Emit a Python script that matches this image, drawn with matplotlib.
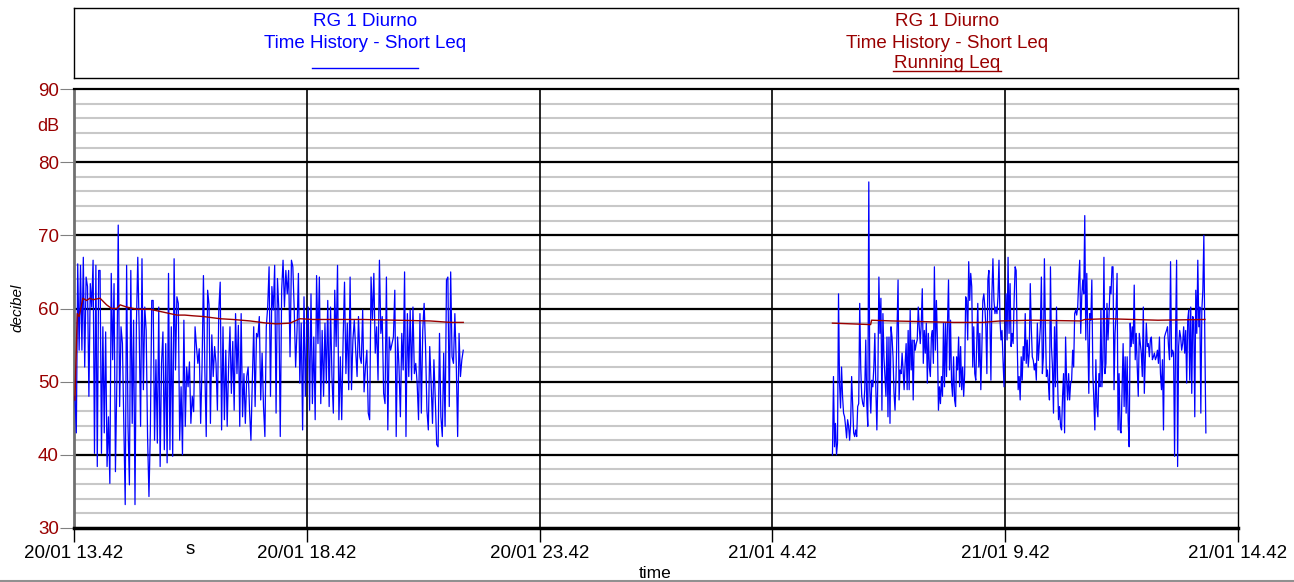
import matplotlib
matplotlib.use("Agg")
import matplotlib.pyplot as plt
import numpy as np
from matplotlib.lines import Line2D

plt.rcParams['font.family'] = ['Liberation Sans', 'DejaVu Sans']

# ---- data (hours since 20/01 13.42) ----
tick_hours = [0, 5, 10, 15, 20, 25]
tick_labels = ['20/01 13.42', '20/01 18.42', '20/01 23.42', '21/01 4.42', '21/01 9.42', '21/01 14.42']

seg1_start, seg1_end = 0.02, 8.36
seg1_leq = [48.0, 43.0, 66.1, 54.3, 65.9, 54.3, 67.0, 52.0, 64.3, 63.0, 48.0, 63.4, 60.2, 66.6, 40.2, 65.9,
            38.4, 65.2, 65.2, 40.2, 57.5, 43.0, 56.8, 38.4, 45.2, 36.1, 64.8, 53.0, 63.4, 37.7, 50.0, 71.4,
            46.6, 57.5, 55.2, 43.9, 33.2, 65.9, 43.9, 35.9, 65.2, 44.3, 58.4, 33.2, 57.7, 67.0, 57.0, 43.9,
            66.8, 48.9, 60.2, 57.0, 42.5, 34.3, 43.4, 61.1, 61.1, 42.0, 53.0, 41.6, 60.2, 38.4, 52.5, 56.8,
            40.7, 55.2, 38.9, 64.8, 40.7, 57.5, 39.8, 66.8, 51.6, 61.6, 60.7, 42.0, 49.3, 40.0, 58.4, 43.9,
            52.0, 49.3,
            52.7, 44.3, 48.0, 45.9, 57.5, 54.8, 52.5, 54.5, 44.3, 52.0, 64.5, 51.6, 42.5, 62.5, 60.5, 44.3,
            56.4, 50.7, 54.8, 52.5, 46.1, 59.8, 63.6, 43.4, 57.5, 44.8, 54.3, 43.9, 52.0, 57.5, 48.4, 55.5,
            46.1, 59.3, 51.1, 57.7, 43.9, 59.3, 45.2, 51.1, 44.3, 50.7, 52.0, 46.1, 42.0, 50.2, 57.5, 46.6,
            56.6, 56.1, 58.9, 47.5, 53.9, 46.6, 42.5, 57.5, 60.2, 65.7, 48.0, 63.0, 59.8, 65.9, 45.7, 64.1,
            59.8, 42.5, 62.5, 66.6, 60.2, 65.2, 62.0, 65.2, 53.4, 66.6, 65.7, 59.8, 52.0, 57.0, 64.8, 49.8,
            58.0, 43.4, 61.6, 48.0, 57.5, 60.2, 46.1, 62.0, 47.0, 56.1, 44.8, 64.5, 55.2, 64.3, 47.0, 57.0,
            48.0, 58.0, 49.8,
            61.1, 46.6, 60.2, 50.7, 45.7, 62.5, 54.8, 65.9, 44.8, 53.4, 44.8, 55.7, 63.6, 51.1, 58.0, 48.9,
            64.3, 48.9, 55.7, 58.4, 54.3, 50.7, 58.9, 53.4, 52.5, 59.8, 48.6, 52.0, 54.3, 45.7, 44.8, 64.3,
            58.4, 64.8, 53.9, 57.5, 50.2, 66.6, 56.6, 58.9, 48.4, 47.0, 64.3, 43.4, 56.1, 54.3, 55.2, 56.1,
            62.5, 42.5, 56.1, 52.0, 45.2, 56.6, 51.6, 65.0, 42.5, 59.3, 50.7, 59.8, 50.2, 60.2, 51.1, 52.5,
            49.8, 44.8, 59.3, 45.7, 57.0, 60.7, 54.8, 46.1, 43.4, 54.8, 49.8, 44.3, 53.0, 47.5, 41.4, 41.1,
            56.6, 45.2, 42.5, 53.9, 43.9, 63.9, 64.3, 46.6, 65.0, 53.4, 52.5, 59.3, 52.5, 42.5, 56.6, 50.7,
            53.0, 54.3]

seg2_start, seg2_end = 16.29, 24.31
seg2_leq = [40.0, 50.7, 41.1, 44.3, 40.0, 41.6, 62.0, 49.8, 46.4, 52.0, 48.0, 45.7, 45.2, 43.9, 42.3, 44.8,
            43.9, 42.0, 44.3, 50.7, 47.0, 43.0, 42.5, 43.4, 42.5, 46.6, 47.0, 60.7, 52.0, 48.0, 47.0, 46.6,
            48.9, 55.7, 47.0, 43.9, 77.3, 48.9, 45.7, 50.2, 49.3, 52.0, 56.6, 48.9, 43.4, 50.7, 64.3, 56.6,
            61.4, 46.1, 59.3, 53.4, 50.7, 48.0, 56.1, 45.2, 56.1, 44.3, 57.5, 56.1, 53.4, 48.4, 46.1, 50.7,
            57.5, 63.9, 47.5, 51.6, 51.1, 53.9, 51.6, 48.9, 52.5, 55.2, 48.9, 57.0, 48.9, 59.8, 51.6, 55.7,
            47.5, 55.7, 54.3, 55.2, 55.7, 60.2, 57.5, 55.2, 58.0, 62.7, 52.5, 57.0, 53.9, 58.0, 49.8, 56.6,
            52.0, 50.7, 56.1, 57.0, 52.5, 65.7, 54.3, 61.1, 55.7, 46.1, 49.3, 47.0, 50.7, 48.0, 58.0, 49.3,
            58.0, 50.7, 58.0, 63.9, 51.6, 58.4, 49.8,
            48.0, 53.4, 47.5, 46.6, 53.4, 51.6, 56.1, 49.3, 54.8, 48.9, 52.0, 48.0, 51.1, 61.6, 61.1, 55.7,
            66.4, 61.1, 64.8, 63.0, 52.0, 57.5, 51.1, 50.2, 55.7, 60.7, 52.0, 56.6, 48.9, 54.3, 61.1, 62.0,
            60.2, 57.5, 51.1, 63.9, 65.2, 58.4, 50.2, 62.0, 66.8, 61.1, 59.3, 60.2, 59.3, 61.6, 66.6, 58.4,
            55.7, 57.0, 52.9, 49.3, 56.6, 62.0, 55.7, 67.0, 56.6, 63.4, 54.8, 56.6, 55.2, 61.1, 65.7, 65.2,
            55.7, 48.9, 50.7, 47.5, 53.4, 50.2, 54.8, 52.9, 59.3, 52.5, 55.7, 52.0, 53.9, 63.4, 57.5, 53.4,
            52.9, 51.6, 52.5, 50.2, 58.0, 52.9, 55.2, 57.5, 64.3, 51.1, 53.4, 66.8, 57.5, 50.7, 51.6, 49.8,
            47.5, 65.7, 54.8, 52.0, 45.7, 57.5, 49.3, 60.2, 50.7, 44.8, 46.6, 43.9, 43.4, 48.0, 51.1, 43.0,
            56.1, 50.2, 47.5, 51.1, 47.5, 49.8, 50.2, 54.3, 52.0, 59.3, 59.8, 59.1, 60.2,
            63.9, 66.6, 56.6, 61.6, 63.9, 62.0, 72.7, 55.7, 64.8, 57.0, 48.4, 59.3, 58.4, 63.9, 51.1, 47.5,
            43.4, 53.0, 46.6, 45.2, 51.1, 49.3, 59.8, 49.3, 53.0, 67.0, 51.1, 52.5, 60.7, 55.7, 58.9, 63.0,
            62.0, 65.7, 65.7, 48.9, 56.6, 59.3, 64.8, 43.4, 51.1, 43.4, 43.0, 49.3, 55.2, 46.6, 53.4, 45.7,
            53.4, 44.8, 41.1, 58.0, 54.8, 57.5, 55.2, 63.2, 53.0, 56.6, 52.0, 48.0, 56.6, 55.2, 53.9, 50.7,
            60.2, 48.4, 53.0, 58.0, 54.8, 55.2, 53.4, 55.7, 56.1, 53.0, 53.4, 53.9, 53.0, 53.4, 54.3, 52.5,
            56.1, 51.1, 48.9, 53.0, 43.4, 56.1, 56.6, 57.0, 57.5, 54.8, 53.0, 66.4, 53.4, 54.3, 53.9, 39.8,
            56.6, 66.6, 38.4, 54.8, 57.0, 56.1, 54.3, 55.2, 57.5, 53.9, 57.0, 49.8, 58.4, 59.8, 50.2, 60.2,
            48.4, 58.9, 58.4, 45.2, 62.5, 56.6, 66.6, 57.5, 60.2, 45.7, 59.8, 62.5, 70.0, 55.2, 43.0]

# running Leq
run1_t = [0.02, 0.07, 0.11, 0.19, 0.27, 0.34, 0.41, 0.56, 0.70, 0.81, 0.92, 0.99, 1.13, 1.35, 1.63, 1.92, 2.21,
          2.38, 2.56, 2.78, 3.14, 3.41, 3.78, 4.14, 4.35, 4.64, 4.85, 5.13, 5.56, 6.21, 6.93, 7.65, 8.08, 8.36]
run1_v = [47.5, 59.3, 58.9, 61.4, 61.1, 61.4, 61.2, 61.4, 60.5, 60.0, 60.0, 60.5, 60.2, 59.9, 59.9, 59.5, 59.1,
          59.1, 59.0, 58.9, 58.6, 58.5, 58.3, 58.0, 57.9, 58.0, 58.6, 58.5, 58.5, 58.5, 58.4, 58.3, 58.1, 58.1]
run2_t = [16.29, 17.11, 17.13, 17.56, 18.28, 18.90, 19.52, 19.89, 20.60, 21.61, 21.71, 22.21, 23.28, 24.29]
run2_v = [58.0, 57.8, 58.4, 58.3, 58.2, 58.1, 58.1, 58.3, 58.4, 58.3, 58.5, 58.6, 58.4, 58.5]

blue = '#0000ff'
red = '#990000'
W, H = 1294, 582

fig = plt.figure(figsize=(W / 100, H / 100), dpi=100)
ax = fig.add_axes([74 / W, 1 - 528 / H, 1164 / W, (528 - 89) / H])

t1 = np.linspace(seg1_start, seg1_end, len(seg1_leq))
t2 = np.linspace(seg2_start, seg2_end, len(seg2_leq))
ax.plot(t1, seg1_leq, color=blue, lw=0.9, zorder=4)
ax.plot(t2, seg2_leq, color=blue, lw=0.9, zorder=4)
ax.plot(run1_t, run1_v, color=red, lw=1.0, zorder=5)
ax.plot(run2_t, run2_v, color=red, lw=1.0, zorder=5)

ax.set_xlim(0, 25)
ax.set_ylim(30, 90)
ax.set_xticks(tick_hours)
ax.set_xticklabels(tick_labels, fontsize=13.5)
ax.set_yticks(np.arange(30, 91, 10))
ax.set_yticks(np.arange(32, 90, 2), minor=True)
ax.tick_params(axis='y', which='major', length=10, color='#808080', labelcolor=red, labelsize=13.5, pad=1)
ax.tick_params(axis='y', which='minor', length=0)
ax.tick_params(axis='x', which='major', length=10, color='black', width=1, pad=2)

# grid: grey every 2 dB, black every 10 dB, black verticals on top of the grey
for yv in np.arange(32, 90, 2):
    ax.axhline(yv, color='#c8c8c8', lw=1.5, zorder=1)
for yv in np.arange(40, 90, 10):
    ax.axhline(yv, color='black', lw=1.6, zorder=2)
for xv in tick_hours[1:-1]:
    ax.axvline(xv, color='black', lw=1.2, zorder=3)

ax.spines['left'].set_color('#707070')
ax.spines['left'].set_linewidth(2)
ax.spines['bottom'].set_linewidth(2.5)
ax.spines['top'].set_linewidth(1.6)
ax.spines['right'].set_linewidth(1.0)

# unit labels
ax.text(-0.022, 84.9, 'dB', transform=ax.get_yaxis_transform(), ha='center', va='center',
        color=red, fontsize=13)
ax.annotate('s', xy=(2.49, 0), xycoords=('data', 'axes fraction'), xytext=(0, -22),
            textcoords='offset pixels', ha='center', va='center', fontsize=13.5)
fig.text(655 / W, 1 - 573 / H, 'time', ha='center', va='center', fontsize=12.5)
fig.text(17 / W, 1 - 308 / H, 'decibel', rotation=90, ha='center', va='center',
         fontsize=11, style='italic')

# legend box
lg = fig.add_axes([74 / W, 1 - 78 / H, 1164 / W, 70 / H])
lg.set_xticks([])
lg.set_yticks([])
for s in lg.spines.values():
    s.set_linewidth(1.0)

fig.text(365 / W, 1 - 21 / H, 'RG 1 Diurno', ha='center', va='center', color=blue, fontsize=13.5)
fig.text(365 / W, 1 - 43 / H, 'Time History - Short Leq', ha='center', va='center', color=blue, fontsize=13.5)
fig.add_artist(Line2D([312 / W, 418 / W], [1 - 68 / H, 1 - 68 / H], color=blue, lw=1.0))

fig.text(947 / W, 1 - 21 / H, 'RG 1 Diurno', ha='center', va='center', color=red, fontsize=13.5)
fig.text(947 / W, 1 - 43 / H, 'Time History - Short Leq', ha='center', va='center', color=red, fontsize=13.5)
fig.text(947 / W, 1 - 63 / H, 'Running Leq', ha='center', va='center', color=red, fontsize=13.5)
fig.add_artist(Line2D([893 / W, 1001 / W], [1 - 71 / H, 1 - 71 / H], color=red, lw=1.0))

fig.add_artist(Line2D([0, 1], [1.5 / H, 1.5 / H], color='#909090', lw=1.5))

fig.savefig('out.png', dpi=100)
